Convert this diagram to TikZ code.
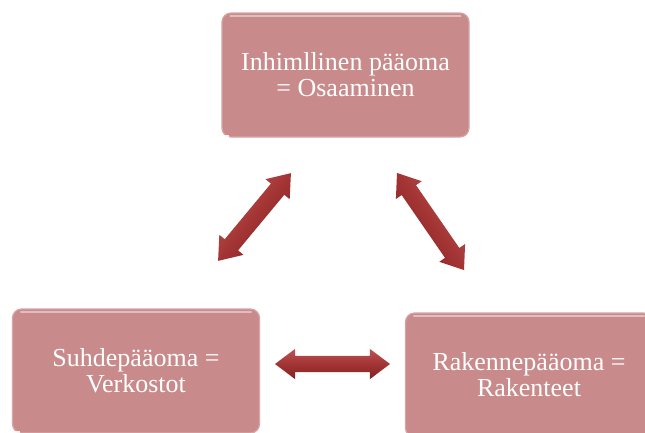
\documentclass[tikz,border=0pt]{standalone}
\usepackage{fontspec}
\setmainfont{Liberation Serif}
\usetikzlibrary{shapes.arrows}
\definecolor{boxfill}{RGB}{201,138,139}
\definecolor{boxedge}{RGB}{214,164,165}
\definecolor{arrowmid}{RGB}{163,52,52}
\definecolor{arrowdark}{RGB}{128,34,34}
\definecolor{arrowlight}{RGB}{188,84,84}

\begin{document}
\begin{tikzpicture}[x=1pt,y=-1pt,
  capbox/.style={rectangle, rounded corners=9pt, minimum width=247pt,
    minimum height=124pt, fill=boxfill, draw=boxedge, line width=1.2pt,
    text=white, align=center, inner sep=0pt,
    font=\fontsize{26}{26}\selectfont},
  linkarrow/.style={double arrow, minimum width=31pt,
    double arrow head extend=7pt, double arrow tip angle=74,
    inner xsep=0pt, inner ysep=8.5pt, top color=arrowlight,
    bottom color=arrowdark, middle color=arrowmid, draw=none}
]
% page area
\fill[white] (0,0) rectangle (645,432);
\useasboundingbox (0,0) rectangle (645,432);

% the three capital boxes
\node[capbox] (hum) at (345.5,75)  {Inhimllinen pääoma\\= Osaaminen};
\node[capbox] (rel) at (136,371)   {Suhdepääoma =\\Verkostot};
\node[capbox] (str) at (529,375)   {Rakennepääoma =\\Rakenteet};

% glossy top edge and corner mark on each box
\foreach \n in {hum,rel,str} {
  \draw[white, opacity=.45, line width=2pt, line cap=round]
    ([xshift=9pt,yshift=-4pt]\n.north west) -- ([xshift=-9pt,yshift=-4pt]\n.north east);
  \fill[white, opacity=.85] ([xshift=3pt,yshift=3pt]\n.south west) rectangle +(5pt,-6pt);
}

% two-way links between the boxes
\node[linkarrow, minimum height=114pt, rotate=50.3, shading angle=50.3]
  (a1) at (254.5,217) {};
\node[linkarrow, minimum height=118pt, rotate=-55.4, shading angle=-55.4]
  (a2) at (430.5,221.5) {};
\node[linkarrow, minimum height=115pt, minimum width=29pt, inner ysep=8pt]
  (a3) at (332.5,364) {};
\end{tikzpicture}
\end{document}
